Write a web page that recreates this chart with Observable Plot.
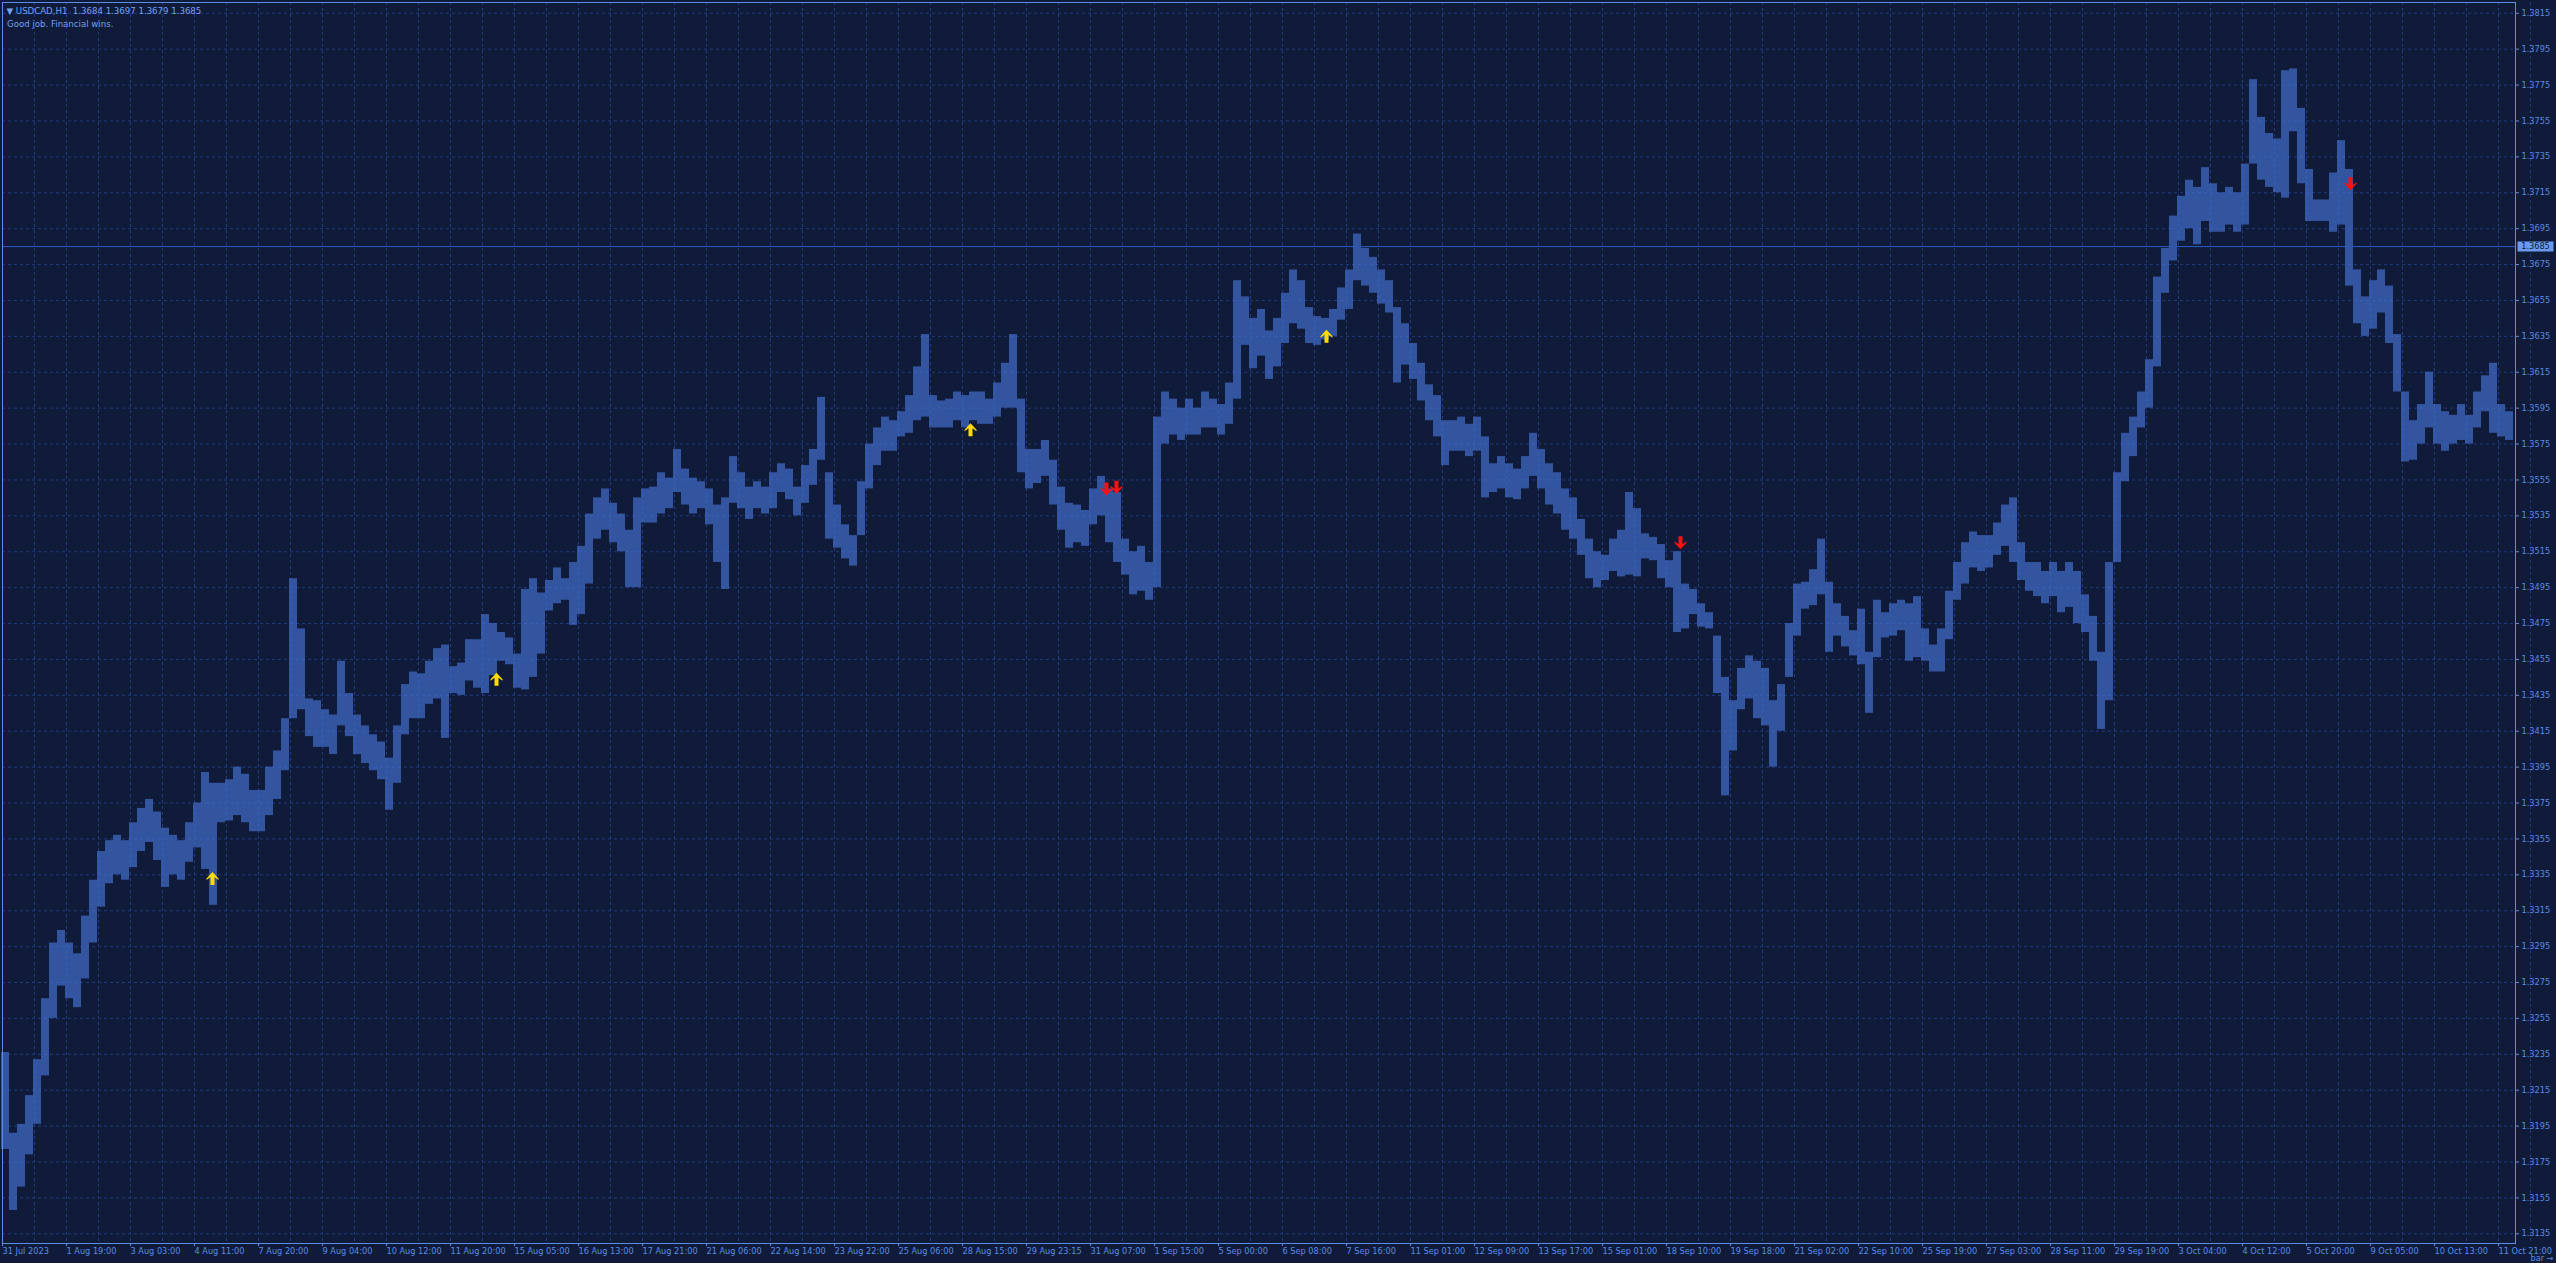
<!DOCTYPE html>
<html><head><meta charset="utf-8">
<script src="https://cdn.jsdelivr.net/npm/d3@7"></script>
<script src="https://cdn.jsdelivr.net/npm/@observablehq/plot@0.6"></script>
<style>
html,body{margin:0;padding:0;background:#101b3a;overflow:hidden;}
#chart svg{display:block;}
</style></head><body><div id="chart"></div>
<script>
// ---- data (USDCAD H1, one entry per 4-hour block) ----
const symbolName = "USDCAD,H1";
const quote = [1.3684, 1.3697, 1.3679, 1.3685];
const comment = "Good job. Financial wins.";
const lastPrice = 1.3685;
const hoursPerBlock = 4;

const blockHigh = [
1.3236,1.3191,1.3196,1.3212,1.3232,1.3266,1.3297,1.3304,1.3297,1.3291,
1.3312,1.3332,1.3348,1.3354,1.3357,1.3354,1.3364,1.3372,1.3377,1.3370,
1.3361,1.3357,1.3354,1.3364,1.3375,1.3392,1.3386,1.3386,1.3388,1.3395,
1.3391,1.3382,1.3382,1.3395,1.3404,1.3422,1.3500,1.3472,1.3433,1.3432,
1.3427,1.3424,1.3454,1.3436,1.3424,1.3418,1.3413,1.3409,1.3400,1.3418,
1.3441,1.3448,1.3447,1.3454,1.3461,1.3463,1.3451,1.3453,1.3466,1.3466,
1.3480,1.3475,1.3470,1.3467,1.3458,1.3494,1.3500,1.3492,1.3499,1.3506,
1.3500,1.3509,1.3518,1.3536,1.3545,1.3550,1.3542,1.3536,1.3527,1.3545,
1.3550,1.3551,1.3559,1.3556,1.3572,1.3561,1.3556,1.3554,1.3550,1.3541,
1.3545,1.3568,1.3559,1.3551,1.3554,1.3551,1.3559,1.3564,1.3561,1.3551,
1.3563,1.3572,1.3601,1.3559,1.3541,1.3530,1.3524,1.3554,1.3575,1.3584,
1.3590,1.3588,1.3593,1.3602,1.3618,1.3636,1.3602,1.3599,1.3600,1.3604,
1.3602,1.3604,1.3604,1.3600,1.3609,1.3620,1.3636,1.3600,1.3572,1.3572,
1.3577,1.3566,1.3551,1.3542,1.3541,1.3538,1.3550,1.3557,1.3550,1.3548,
1.3522,1.3515,1.3518,1.3509,1.3590,1.3604,1.3600,1.3595,1.3600,1.3595,
1.3604,1.3600,1.3597,1.3609,1.3666,1.3657,1.3645,1.3650,1.3638,1.3645,
1.3659,1.3672,1.3666,1.3651,1.3646,1.3645,1.3650,1.3662,1.3672,1.3692,
1.3684,1.3679,1.3672,1.3666,1.3651,1.3642,1.3631,1.3620,1.3608,1.3602,
1.3588,1.3588,1.3590,1.3586,1.3590,1.3579,1.3564,1.3568,1.3564,1.3561,
1.3568,1.3581,1.3572,1.3564,1.3559,1.3550,1.3545,1.3533,1.3522,1.3515,
1.3513,1.3522,1.3527,1.3548,1.3539,1.3525,1.3523,1.3519,1.3510,1.3515,
1.3497,1.3494,1.3486,1.3481,1.3468,1.3445,1.3432,1.3450,1.3457,1.3454,
1.3450,1.3432,1.3441,1.3475,1.3497,1.3498,1.3505,1.3522,1.3498,1.3486,
1.3479,1.3471,1.3483,1.3459,1.3488,1.3481,1.3486,1.3488,1.3486,1.3490,
1.3472,1.3463,1.3472,1.3493,1.3509,1.3520,1.3526,1.3524,1.3524,1.3531,
1.3541,1.3545,1.3520,1.3509,1.3509,1.3504,1.3509,1.3504,1.3509,1.3504,
1.3491,1.3479,1.3459,1.3509,1.3559,1.3581,1.3590,1.3604,1.3622,1.3668,
1.3684,1.3702,1.3713,1.3722,1.3718,1.3729,1.3720,1.3715,1.3718,1.3715,
1.3731,1.3778,1.3757,1.3748,1.3745,1.3783,1.3784,1.3762,1.3728,1.3711,
1.3711,1.3726,1.3744,1.3728,1.3672,1.3657,1.3666,1.3672,1.3663,1.3636,
1.3604,1.3588,1.3597,1.3615,1.3597,1.3593,1.3591,1.3597,1.3591,1.3604,
1.3613,1.3620,1.3597,1.3593
];
const blockLow = [
1.3182,1.3148,1.3161,1.3179,1.3196,1.3223,1.3255,1.3273,1.3266,1.3261,
1.3277,1.3297,1.3317,1.3330,1.3335,1.3332,1.3339,1.3348,1.3353,1.3343,
1.3328,1.3335,1.3332,1.3342,1.3350,1.3338,1.3318,1.3364,1.3365,1.3368,
1.3364,1.3359,1.3359,1.3368,1.3377,1.3393,1.3422,1.3427,1.3412,1.3406,
1.3406,1.3402,1.3418,1.3412,1.3402,1.3397,1.3393,1.3388,1.3371,1.3386,
1.3413,1.3422,1.3422,1.3430,1.3433,1.3411,1.3436,1.3435,1.3443,1.3439,
1.3436,1.3446,1.3454,1.3452,1.3439,1.3438,1.3445,1.3458,1.3482,1.3486,
1.3488,1.3474,1.3480,1.3497,1.3522,1.3527,1.3520,1.3515,1.3495,1.3495,
1.3531,1.3531,1.3536,1.3539,1.3548,1.3541,1.3536,1.3539,1.3530,1.3509,
1.3494,1.3542,1.3539,1.3533,1.3539,1.3536,1.3539,1.3548,1.3544,1.3535,
1.3542,1.3552,1.3566,1.3522,1.3517,1.3511,1.3507,1.3524,1.3550,1.3563,
1.3571,1.3571,1.3579,1.3581,1.3588,1.3590,1.3584,1.3584,1.3584,1.3588,
1.3584,1.3588,1.3586,1.3586,1.3590,1.3595,1.3595,1.3559,1.3550,1.3553,
1.3557,1.3541,1.3527,1.3517,1.3520,1.3518,1.3530,1.3535,1.3520,1.3509,
1.3502,1.3491,1.3493,1.3488,1.3495,1.3575,1.3580,1.3577,1.3580,1.3580,
1.3584,1.3584,1.3580,1.3586,1.3600,1.3630,1.3617,1.3624,1.3611,1.3618,
1.3631,1.3642,1.3639,1.3631,1.3630,1.3633,1.3635,1.3644,1.3650,1.3666,
1.3663,1.3659,1.3653,1.3648,1.3609,1.3619,1.3611,1.3599,1.3588,1.3579,
1.3563,1.3571,1.3571,1.3568,1.3571,1.3545,1.3548,1.3550,1.3545,1.3544,
1.3550,1.3557,1.3550,1.3541,1.3536,1.3527,1.3522,1.3513,1.3500,1.3495,
1.3499,1.3504,1.3501,1.3502,1.3501,1.3511,1.3510,1.3500,1.3495,1.3470,
1.3472,1.3480,1.3473,1.3472,1.3436,1.3379,1.3404,1.3427,1.3433,1.3422,
1.3418,1.3395,1.3415,1.3445,1.3468,1.3483,1.3485,1.3491,1.3459,1.3468,
1.3462,1.3457,1.3452,1.3425,1.3456,1.3467,1.3468,1.3471,1.3454,1.3456,
1.3454,1.3448,1.3448,1.3466,1.3488,1.3497,1.3506,1.3504,1.3506,1.3513,
1.3518,1.3509,1.3499,1.3493,1.3490,1.3486,1.3490,1.3481,1.3484,1.3475,
1.3470,1.3454,1.3416,1.3432,1.3509,1.3554,1.3568,1.3584,1.3595,1.3618,
1.3659,1.3677,1.3688,1.3695,1.3686,1.3699,1.3693,1.3693,1.3697,1.3693,
1.3697,1.3731,1.3722,1.3718,1.3715,1.3712,1.3749,1.3720,1.3699,1.3699,
1.3699,1.3693,1.3697,1.3663,1.3642,1.3635,1.3639,1.3648,1.3631,1.3604,
1.3565,1.3566,1.3575,1.3584,1.3575,1.3571,1.3575,1.3577,1.3575,1.3584,
1.3593,1.3581,1.3579,1.3577
];

const yTickValues = [
1.3135,1.3155,1.3175,1.3195,1.3215,1.3235,1.3255,1.3275,1.3295,1.3315,
1.3335,1.3355,1.3375,1.3395,1.3415,1.3435,1.3455,1.3475,1.3495,1.3515,
1.3535,1.3555,1.3575,1.3595,1.3615,1.3635,1.3655,1.3675,1.3695,1.3715,
1.3735,1.3755,1.3775,1.3795,1.3815
];
const xTickLabels = [
"31 Jul 2023","1 Aug 19:00","3 Aug 03:00","4 Aug 11:00","7 Aug 20:00","9 Aug 04:00",
"10 Aug 12:00","11 Aug 20:00","15 Aug 05:00","16 Aug 13:00","17 Aug 21:00","21 Aug 06:00",
"22 Aug 14:00","23 Aug 22:00","25 Aug 06:00","28 Aug 15:00","29 Aug 23:15","31 Aug 07:00",
"1 Sep 15:00","5 Sep 00:00","6 Sep 08:00","7 Sep 16:00","11 Sep 01:00","12 Sep 09:00",
"13 Sep 17:00","15 Sep 01:00","18 Sep 10:00","19 Sep 18:00","21 Sep 02:00","22 Sep 10:00",
"25 Sep 19:00","27 Sep 03:00","28 Sep 11:00","29 Sep 19:00","3 Oct 04:00","4 Oct 12:00",
"5 Oct 20:00","9 Oct 05:00","10 Oct 13:00","11 Oct 21:00"
];
const barsPerLabel = 32;

// signal arrows: bar index (hours from first visible bar) and price
const upBars = [105, 247, 484, 662];
const upPrices = [1.3333, 1.3444, 1.3583, 1.3635];
const downBars = [552, 557, 839, 1174];
const downPrices = [1.3550, 1.3551, 1.3520, 1.3720];

// ---- styling ----
const BG = "#101b3a", BAR = "#4672d4", GRID = "#1f3b82", TXT = "#5b8ce6";

const blocks = blockHigh.map((h, i) => ({start: i * hoursPerBlock, high: h, low: blockLow[i]}));
const labelBars = xTickLabels.map((_, i) => i * barsPerLabel);
const gridBars = d3.range(xTickLabels.length * 2).map(i => i * barsPerLabel / 2);
const ups = upBars.map((b, i) => ({bar: b, price: upPrices[i]}));
const downs = downBars.map((b, i) => ({bar: b, price: downPrices[i]}));

const upArrow = {draw(c) {
  c.moveTo(0, -6.5); c.lineTo(6, 0); c.lineTo(6, 1.5); c.lineTo(2, -1.5); c.lineTo(2, 6.5);
  c.lineTo(-2, 6.5); c.lineTo(-2, -1.5); c.lineTo(-6, 1.5); c.lineTo(-6, 0); c.closePath();
}};
const downArrow = {draw(c) {
  c.moveTo(0, 6.5); c.lineTo(6, 0); c.lineTo(6, -1.5); c.lineTo(2, 1.5); c.lineTo(2, -6.5);
  c.lineTo(-2, -6.5); c.lineTo(-2, 1.5); c.lineTo(-6, -1.5); c.lineTo(-6, 0); c.closePath();
}};
const priceBox = {draw(c) { c.rect(-18, -5, 36, 10); }};

const chart = Plot.plot({
  width: 2556, height: 1263,
  marginTop: 2, marginLeft: 2, marginRight: 41, marginBottom: 20,
  x: {type: "linear", domain: [0, 1256.5]},
  y: {domain: [1.31296, 1.38210]},
  style: {background: BG, fontFamily: "DejaVu Sans", fontSize: "8.2px", color: TXT},
  marks: [
    Plot.gridY({ticks: yTickValues, stroke: GRID, strokeOpacity: 1, strokeDasharray: "3,3"}),
    Plot.gridX({ticks: gridBars, stroke: GRID, strokeOpacity: 1, strokeDasharray: "3,3"}),
    Plot.rect(blocks, {x1: d => d.start - 0.5, x2: d => d.start + hoursPerBlock - 0.5, y1: "low", y2: "high", fill: BAR, fillOpacity: 0.66}),
    Plot.ruleY([lastPrice], {stroke: "#2d5cc0", strokeWidth: 1}),
    Plot.dot(ups, {x: "bar", y: "price", symbol: upArrow, r: 4, fill: "#ffdc00", stroke: "none"}),
    Plot.dot(downs, {x: "bar", y: "price", symbol: downArrow, r: 4, fill: "#ff1010", stroke: "none"}),
    Plot.axisY({anchor: "right", ticks: yTickValues, tickFormat: d => d.toFixed(4), tickSize: 3, tickPadding: 3, color: TXT, fontSize: 8.2}),
    Plot.axisX({ticks: labelBars, tickFormat: d => xTickLabels[Math.round(d / barsPerLabel)], textAnchor: "start", tickSize: 3, tickPadding: 2, color: TXT, fontSize: 8.2}),
    Plot.frame({stroke: TXT}),
    Plot.dot([lastPrice], {y: d => d, frameAnchor: "right", dx: 20, symbol: priceBox, r: 4, fill: "#6a9aee", stroke: "none"}),
    Plot.text([lastPrice], {y: d => d, text: d => d.toFixed(4), frameAnchor: "right", dx: 20, textAnchor: "middle", fill: BG, fontSize: 8.2}),
    Plot.text([`\u25BC ${symbolName}  ${quote.map(q => q.toFixed(4)).join(" ")}`], {text: d => d, frameAnchor: "top-left", dx: 4, dy: 5, lineAnchor: "top", textAnchor: "start", fill: "#74a2f0", fontSize: 8.6}),
    Plot.text([comment], {text: d => d, frameAnchor: "top-left", dx: 4.5, dy: 18, lineAnchor: "top", textAnchor: "start", fill: "#74a2f0", fontSize: 8.6})
  ]
});
document.getElementById("chart").appendChild(chart);
</script>
</body></html>
